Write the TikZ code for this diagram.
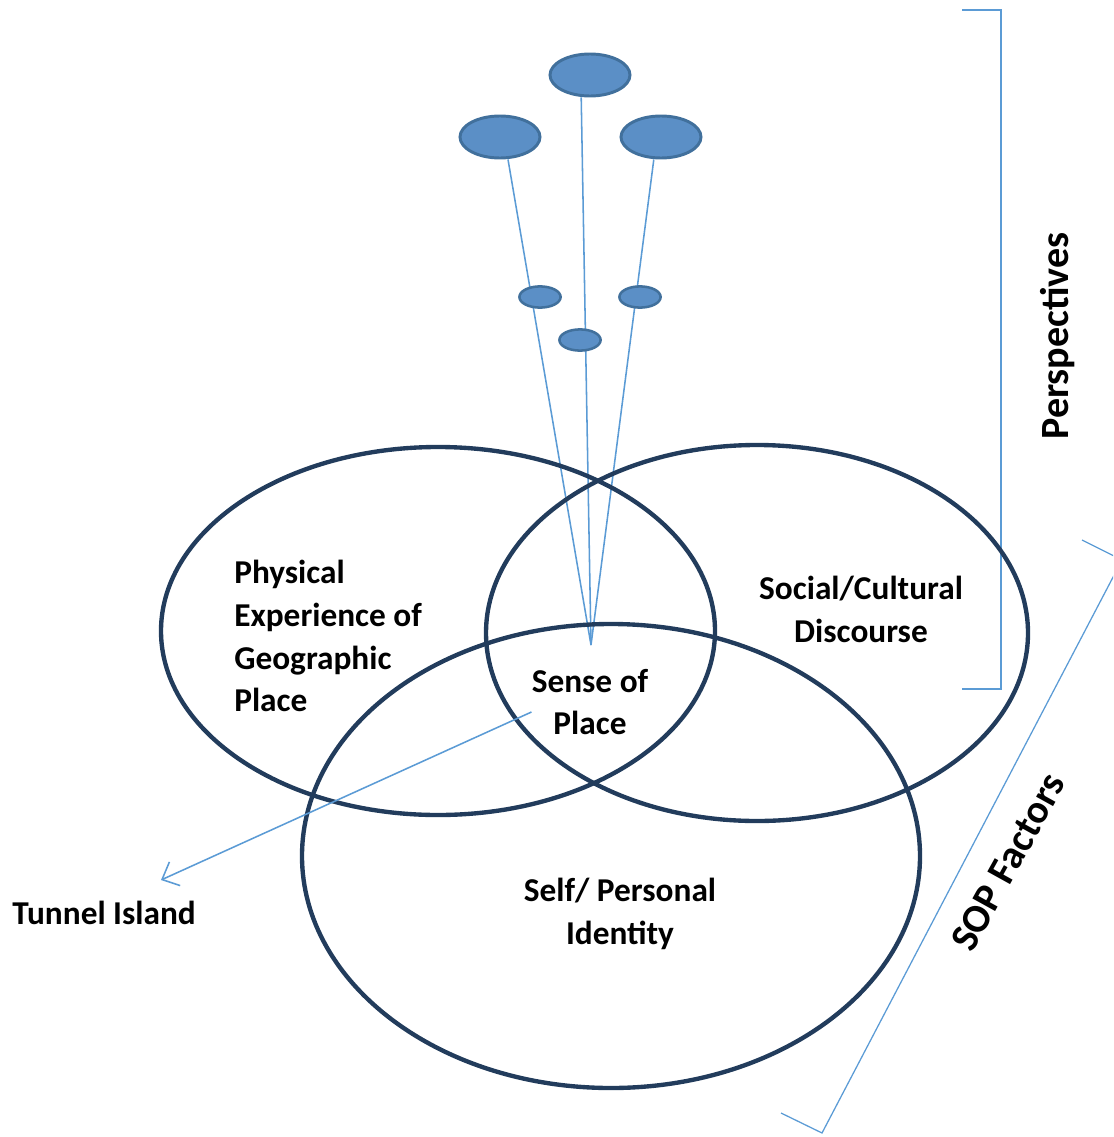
\documentclass[tikz,border=0pt]{standalone}
\usepackage{fontspec}
\setmainfont{Carlito}
\usepackage{tikz}
\usetikzlibrary{shapes.geometric, arrows.meta}
\definecolor{VennInk}{HTML}{223C5C}
\definecolor{PinFill}{HTML}{5B8FC6}
\definecolor{PinLine}{HTML}{41709C}
\definecolor{RayBlue}{HTML}{5B9BD5}
\tikzset{
  vennring/.style={draw=VennInk, line width=3.1pt},
  pinbig/.style={ellipse, draw=PinLine, line width=2.1pt, fill=PinFill,
    minimum width=2.0cm, minimum height=1.05cm, inner sep=0pt},
  pinsmall/.style={pinbig, line width=1.8pt, minimum width=1.03cm, minimum height=0.53cm},
  ray/.style={draw=RayBlue, line width=1.1pt},
  bracketline/.style={draw=RayBlue, line width=0.9pt},
  venntext/.style={font=\fontsize{23.7}{30.5}\selectfont\bfseries, inner sep=0pt},
  sidetext/.style={font=\fontsize{28.5}{34}\selectfont\bfseries, inner sep=0pt},
  tunnelarrow/.style={ray, -{Straight Barb[length=3.5mm, width=6.5mm]}},
}

\begin{document}
\begin{tikzpicture}[x=0.025cm, y=-0.025cm]
  \useasboundingbox (0,0) rectangle (1113,1137);
  \clip (0,0) rectangle (1113,1137);
  % brackets
  \draw[bracketline] (962,10) -- (1001,10) -- (1001,689) -- (962,689);
  \draw[bracketline] (1082,540) -- (1122,560) -- (822,1133) -- (781,1113);
  \node[sidetext, rotate=90] (persp) at (1058,336) {Perspectives};
  \node[sidetext, rotate=61] (factors) at (1008,862) {SOP Factors};
  % perspectives converging on the centre
  \coordinate (sop) at (591,645);
  \node[pinbig] (pinT) at (590,75) {};
  \node[pinbig] (pinL) at (500,137) {};
  \node[pinbig] (pinR) at (661,137) {};
  \draw[ray] ([xshift=-0.22cm]pinT.south) -- (sop);
  \draw[ray] ([xshift=0.2cm]pinL.south) -- (sop);
  \draw[ray] ([xshift=-0.18cm]pinR.south) -- (sop);
  \node[pinsmall] (dotL) at (540,297) {};
  \node[pinsmall] (dotR) at (640,297) {};
  \node[pinsmall] (dotC) at (580,340) {};
  % venn rings
  \draw[vennring] (438,631) ellipse [x radius=277, y radius=184];
  \draw[vennring] (757,633) ellipse [x radius=271, y radius=188];
  \draw[vennring] (611,856) ellipse [x radius=309, y radius=232];
  % labels
  \node[venntext, align=left, anchor=west] (physical) at (234,636)
    {Physical\\Experience of\\Geographic\\Place};
  \node[venntext, align=center] (social) at (861,609) {Social/Cultural\\Discourse};
  \node[venntext, align=center] (sense) at (590,702) {Sense of\\Place};
  \node[venntext, align=center] (self) at (620,914) {Self/ Personal\\Identity};
  \node[venntext, anchor=west] (tunnel) at (12,913) {Tunnel Island};
  \coordinate (tunnelTip) at (161,880);
  \draw[tunnelarrow] ([yshift=-0.25cm]sense.west) -- (tunnelTip);
\end{tikzpicture}
\end{document}
